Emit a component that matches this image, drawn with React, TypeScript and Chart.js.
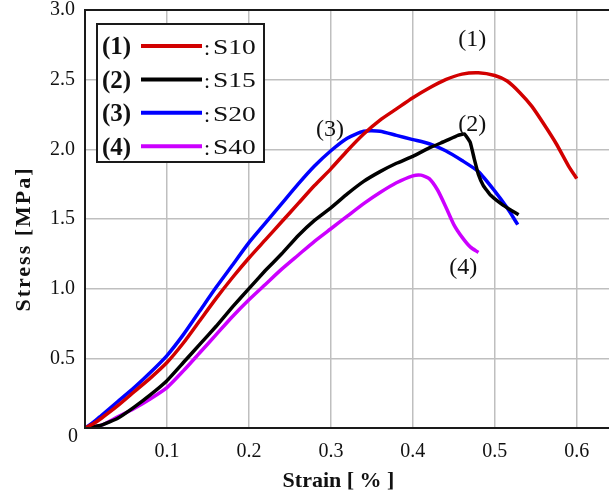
import React, { useEffect, useRef } from 'react';
import { Chart, registerables } from 'chart.js';

Chart.register(...registerables);

// ---- data ----
const seriesNames = ['S10', 'S15', 'S20', 'S40'];
const seriesNumbers = ['(1)', '(2)', '(3)', '(4)'];
const seriesColors = ['#d20000', '#000000', '#0000ff', '#cc00ff'];

const strainS10 = [0, 0.01, 0.02, 0.04, 0.06, 0.08, 0.10, 0.12, 0.14, 0.16, 0.18, 0.20, 0.22, 0.24, 0.26, 0.28, 0.30, 0.32, 0.34, 0.36, 0.38, 0.40, 0.42, 0.44, 0.46, 0.48, 0.50, 0.515, 0.53, 0.545, 0.56, 0.575, 0.59, 0.60];
const stressS10 = [0, 0.03, 0.07, 0.16, 0.26, 0.36, 0.47, 0.61, 0.77, 0.93, 1.08, 1.22, 1.35, 1.48, 1.61, 1.74, 1.86, 1.99, 2.11, 2.21, 2.29, 2.37, 2.44, 2.50, 2.54, 2.55, 2.53, 2.49, 2.41, 2.31, 2.18, 2.04, 1.88, 1.79];

const strainS15 = [0, 0.01, 0.02, 0.04, 0.06, 0.08, 0.10, 0.12, 0.14, 0.16, 0.18, 0.20, 0.22, 0.24, 0.26, 0.28, 0.30, 0.32, 0.34, 0.36, 0.38, 0.40, 0.42, 0.44, 0.455, 0.463, 0.47, 0.475, 0.48, 0.486, 0.495, 0.51, 0.529];
const stressS15 = [0, 0.01, 0.02, 0.07, 0.15, 0.24, 0.34, 0.47, 0.60, 0.73, 0.87, 1.00, 1.13, 1.25, 1.38, 1.49, 1.58, 1.68, 1.77, 1.84, 1.90, 1.95, 2.01, 2.06, 2.10, 2.11, 2.05, 1.93, 1.82, 1.74, 1.67, 1.60, 1.53];

const strainS20 = [0, 0.01, 0.02, 0.04, 0.06, 0.08, 0.10, 0.12, 0.14, 0.16, 0.18, 0.20, 0.22, 0.24, 0.26, 0.28, 0.30, 0.32, 0.34, 0.36, 0.38, 0.40, 0.42, 0.44, 0.46, 0.48, 0.50, 0.515, 0.528];
const stressS20 = [0, 0.04, 0.09, 0.19, 0.29, 0.40, 0.52, 0.67, 0.84, 1.01, 1.17, 1.33, 1.47, 1.61, 1.75, 1.88, 1.99, 2.08, 2.13, 2.13, 2.10, 2.07, 2.04, 1.99, 1.92, 1.84, 1.70, 1.58, 1.46];

const strainS40 = [0, 0.02, 0.04, 0.06, 0.08, 0.10, 0.12, 0.14, 0.16, 0.18, 0.20, 0.22, 0.24, 0.26, 0.28, 0.30, 0.32, 0.34, 0.36, 0.38, 0.40, 0.41, 0.42, 0.43, 0.44, 0.45, 0.46, 0.47, 0.48];
const stressS40 = [0, 0.02, 0.08, 0.14, 0.21, 0.29, 0.41, 0.54, 0.67, 0.80, 0.92, 1.03, 1.14, 1.24, 1.34, 1.43, 1.52, 1.61, 1.69, 1.76, 1.81, 1.815, 1.79, 1.71, 1.59, 1.46, 1.37, 1.30, 1.26];

const xTickValues = [0, 0.1, 0.2, 0.3, 0.4, 0.5, 0.6];
const yTickValues = [0, 0.5, 1.0, 1.5, 2.0, 2.5, 3.0];

// labels placed near each curve, in data units
const annotationStrain = [0.4725, 0.4725, 0.299, 0.4615];
const annotationStress = [2.79, 2.175, 2.14, 1.148];

const xTitle = 'Strain [ % ]';
const yTitle = 'Stress [MPa]';

const SERIF = '"Liberation Serif", "Times New Roman", serif';

function zip(xs: number[], ys: number[]) {
  return xs.map((x, i) => ({ x, y: ys[i] }));
}

const decorPlugin = {
  id: 'decor',
  afterDraw(chart: any) {
    const ctx: CanvasRenderingContext2D = chart.ctx;
    const a = chart.chartArea;
    const xs = chart.scales.x;
    const ys = chart.scales.y;
    ctx.save();

    // frame
    ctx.strokeStyle = '#1a1a1a';
    ctx.lineWidth = 2;
    ctx.beginPath();
    ctx.moveTo(a.left, a.top);
    ctx.lineTo(a.right, a.top);
    ctx.lineTo(a.right, a.bottom);
    ctx.lineTo(a.left, a.bottom);
    ctx.closePath();
    ctx.stroke();

    // curve annotations
    ctx.fillStyle = '#111';
    ctx.font = `24px ${SERIF}`;
    ctx.textAlign = 'center';
    ctx.textBaseline = 'middle';
    for (let i = 0; i < seriesNumbers.length; i++) {
      ctx.fillText(
        seriesNumbers[i],
        xs.getPixelForValue(annotationStrain[i]),
        ys.getPixelForValue(annotationStress[i])
      );
    }

    // shared origin label
    ctx.font = `20px ${SERIF}`;
    ctx.fillText('0', a.left - 12, a.bottom + 9);

    // axis titles
    ctx.font = `bold 22px ${SERIF}`;
    ctx.fillText(xTitle, (a.left + a.right) / 2 - 10, a.bottom + 53);
    ctx.save();
    ctx.translate(24, (a.top + a.bottom) / 2 + 20);
    ctx.rotate(-Math.PI / 2);
    (ctx as any).letterSpacing = '2px';
    ctx.fillText(yTitle, 0, 0);
    ctx.restore();

    // legend
    const bx = a.left + 12;
    const by = a.top + 14;
    const bw = 167;
    const bh = 138;
    ctx.fillStyle = '#ffffff';
    ctx.fillRect(bx, by, bw, bh);
    ctx.strokeStyle = '#1a1a1a';
    ctx.lineWidth = 2;
    ctx.strokeRect(bx, by, bw, bh);
    for (let i = 0; i < seriesNames.length; i++) {
      const ry = by + 23 + i * 33.4;
      ctx.fillStyle = '#111';
      ctx.textAlign = 'left';
      ctx.textBaseline = 'middle';
      ctx.font = `bold 25px ${SERIF}`;
      ctx.fillText(seriesNumbers[i], bx + 5, ry + 1);
      ctx.strokeStyle = seriesColors[i];
      ctx.lineWidth = 4;
      ctx.beginPath();
      ctx.moveTo(bx + 44, ry - 1);
      ctx.lineTo(bx + 105, ry - 1);
      ctx.stroke();
      ctx.fillStyle = '#111';
      ctx.font = `22px ${SERIF}`;
      ctx.fillText(':', bx + 107, ry + 2);
      ctx.save();
      ctx.translate(bx + 116, ry + 1);
      ctx.scale(1.25, 1);
      ctx.fillText(seriesNames[i], 0, 0);
      ctx.restore();
    }
    ctx.restore();
  },
};

export default function App() {
  const ref = useRef<HTMLCanvasElement | null>(null);

  useEffect(() => {
    if (!ref.current) return;
    const chart = new Chart(ref.current, {
      type: 'line',
      data: {
        datasets: [
          { label: seriesNames[0], data: zip(strainS10, stressS10) },
          { label: seriesNames[1], data: zip(strainS15, stressS15) },
          { label: seriesNames[2], data: zip(strainS20, stressS20) },
          { label: seriesNames[3], data: zip(strainS40, stressS40) },
        ].map((d, i) => ({
          ...d,
          borderColor: seriesColors[i],
          backgroundColor: seriesColors[i],
          borderWidth: 3.5,
          pointRadius: 0,
          tension: i === 1 ? 0.1 : 0.2,
          fill: false,
        })),
      },
      options: {
        animation: false,
        responsive: false,
        devicePixelRatio: 1,
        layout: { padding: { left: 0, right: 18, top: 10, bottom: 0 } },
        plugins: { legend: { display: false }, tooltip: { enabled: false } },
        scales: {
          x: {
            type: 'linear',
            min: 0,
            max: 0.643,
            afterBuildTicks: (s: any) => {
              s.ticks = xTickValues.map((v) => ({ value: v }));
            },
            afterFit: (s: any) => {
              s.height = 65;
              s.paddingLeft = 0;
              s.paddingRight = 0;
            },
            grid: { color: '#bfbfbf', lineWidth: 1.5, drawTicks: false },
            border: { display: false },
            ticks: {
              autoSkip: false,
              maxRotation: 0,
              padding: 12,
              color: '#111',
              font: { family: SERIF, size: 20 },
              callback: (v: any) => (Number(v) === 0 ? '' : Number(v).toFixed(1)),
            },
          },
          y: {
            type: 'linear',
            min: 0,
            max: 3,
            afterBuildTicks: (s: any) => {
              s.ticks = yTickValues.map((v) => ({ value: v }));
            },
            afterFit: (s: any) => {
              s.width = 85;
              s.paddingTop = 0;
              s.paddingBottom = 0;
            },
            grid: { color: '#bfbfbf', lineWidth: 1.5, drawTicks: false },
            border: { display: false },
            ticks: {
              autoSkip: false,
              padding: 10,
              color: '#111',
              font: { family: SERIF, size: 20 },
              callback: (v: any) => (Number(v) === 0 ? '' : Number(v).toFixed(1)),
            },
          },
        },
      },
      plugins: [decorPlugin],
    } as any);
    return () => chart.destroy();
  }, []);

  return (
    <div style={{ position: 'fixed', left: 0, top: 0, width: 609, height: 493, overflow: 'hidden', background: '#fff' }}>
      <canvas ref={ref} width={630} height={493} style={{ display: 'block', width: 630, height: 493 }} />
    </div>
  );
}
